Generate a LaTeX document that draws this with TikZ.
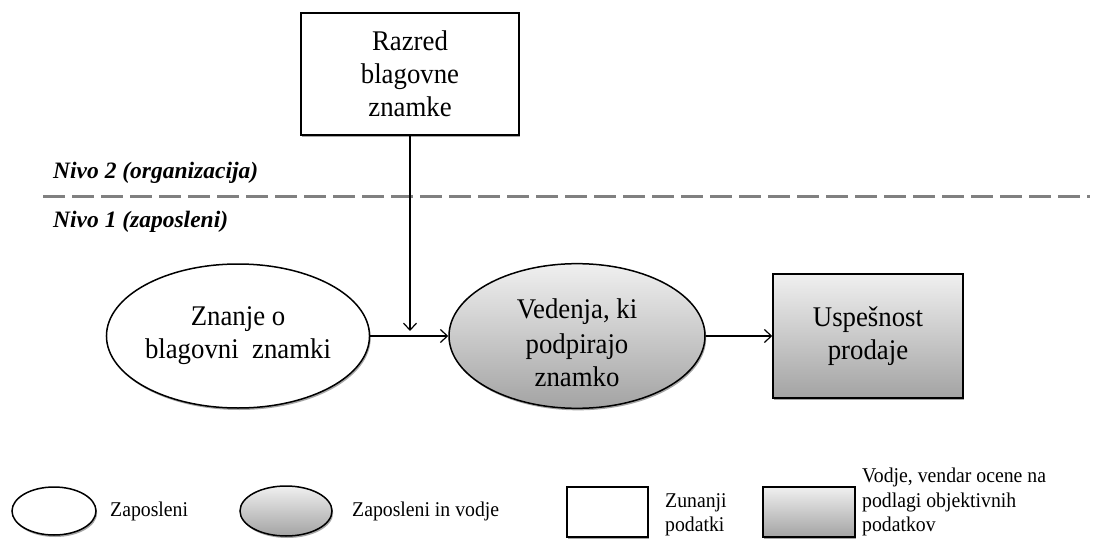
\documentclass[tikz,border=0pt]{standalone}
\usepackage{fontspec}
\setmainfont{Liberation Serif}
% body text of the shapes is set slightly condensed and taller
\newfontfamily\tallserif{Liberation Serif}[FakeStretch=0.94]
\usetikzlibrary{shapes.geometric,arrows.meta,shadows}

\tikzset{
  softshadow/.style={drop shadow={shadow xshift=1.2pt,shadow yshift=-2pt,opacity=0.35,fill=black}},
  plainfill/.style={fill=white},
  greyfill/.style={top color=gray!12,bottom color=gray!72},
  ovalbox/.style={ellipse,draw=black,line width=1.5pt,softshadow,inner sep=0pt,align=center},
  rectbox/.style={rectangle,draw=black,line width=1.5pt,softshadow,inner sep=0pt,align=center},
  maintext/.style={font=\tallserif\fontsize{28.5}{33}\selectfont},
  legendtext/.style={font=\tallserif\fontsize{21}{24.5}\selectfont,inner sep=0pt,align=left},
  leveltext/.style={font=\fontsize{23.5}{28}\selectfont\bfseries\itshape,inner sep=0pt},
  link/.style={draw=black,line width=1.2pt,-{Straight Barb[length=7pt,width=13pt,line width=1.2pt]}},
  levelline/.style={draw=gray,line width=3pt,dash pattern=on 22pt off 7pt}
}

\begin{document}
\begin{tikzpicture}[x=1pt,y=-1pt]
  \useasboundingbox (0,0) rectangle (1099,545);

  % level separator and level labels
  \coordinate (lvlA) at (43,197);
  \coordinate (lvlB) at (1090,197);
  \draw[levelline] (lvlA) -- (lvlB);
  \node[leveltext,anchor=west] (nivo2) at (53,173) {Nivo 2 (organizacija)};
  \node[leveltext,anchor=west] (nivo1) at (53,222) {Nivo 1 (zaposleni)};

  % model
  \node[rectbox,plainfill,maintext,minimum width=218,minimum height=122] (razred) at (410,74)
    {Razred\\blagovne\\znamke};
  \node[ovalbox,plainfill,maintext,minimum width=256,minimum height=144] (znanje) at (238,336)
    {Znanje o\\blagovni\ \ znamki};
  \node[ovalbox,greyfill,maintext,minimum width=256,minimum height=144] (vedenja) at (577,336)
    {\rule{0pt}{34pt}Vedenja, ki\\[2pt]podpirajo\\znamko};
  \node[rectbox,greyfill,maintext,minimum width=190,minimum height=124] (uspeh) at (868,336)
    {Uspešnost\\prodaje};

  \coordinate (mod) at (410,331);
  \draw[link] (razred.south) -- (mod);
  \draw[link] (znanje.east) -- (vedenja.west);
  \draw[link] (vedenja.east) -- (uspeh.west);

  % legend
  \node[ovalbox,plainfill,minimum width=84,minimum height=48] (legA) at (54,511) {};
  \node[legendtext,anchor=west] (legAt) at (110,511) {Zaposleni};
  \node[ovalbox,greyfill,minimum width=92,minimum height=50] (legB) at (286,511) {};
  \node[legendtext,anchor=west] (legBt) at (352,511) {Zaposleni in vodje};
  \node[rectbox,plainfill,minimum width=81,minimum height=50] (legC) at (607.5,512) {};
  \node[legendtext,anchor=west] (legCt) at (665,515) {Zunanji\\podatki};
  \node[rectbox,greyfill,minimum width=92,minimum height=50] (legD) at (809,512) {};
  \node[legendtext,anchor=west] (legDt) at (862,502) {Vodje, vendar ocene na\\podlagi objektivnih\\podatkov};
\end{tikzpicture}
\end{document}
